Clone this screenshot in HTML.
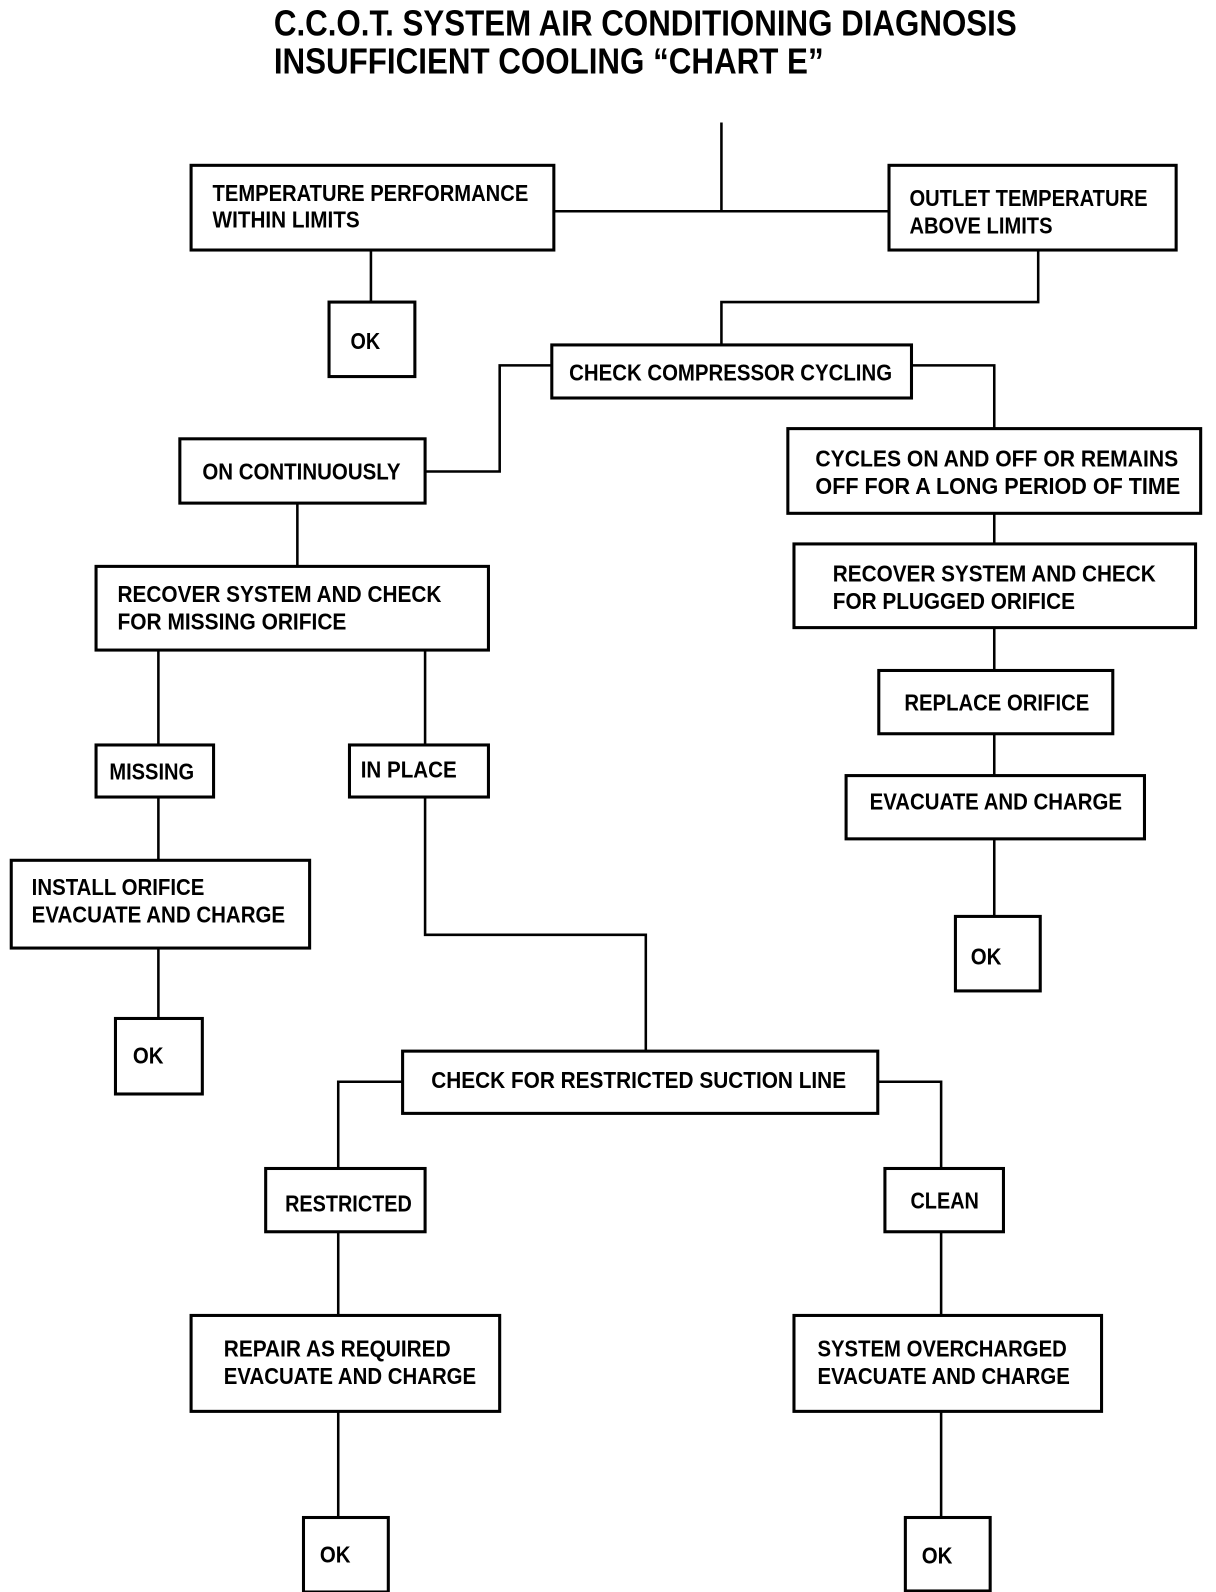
<!DOCTYPE html>
<html><head><meta charset="utf-8"><style>
html,body{margin:0;padding:0;background:#fff;width:1216px;height:1592px;overflow:hidden}
svg{display:block}
text{font-family:"Liberation Sans",sans-serif;font-size:23px;fill:#000;font-weight:bold}
.t{font-size:35px;font-weight:bold}
rect{fill:none;stroke:#000;stroke-width:3}
path{fill:none;stroke:#000;stroke-width:2.5}
</style></head><body>
<svg width="1216" height="1592" viewBox="0 0 1190 1560" preserveAspectRatio="none" xmlns="http://www.w3.org/2000/svg">
<text class="t" x="268" y="35" textLength="727" lengthAdjust="spacingAndGlyphs">C.C.O.T. SYSTEM AIR CONDITIONING DIAGNOSIS</text>
<text class="t" x="268" y="72" textLength="538" lengthAdjust="spacingAndGlyphs">INSUFFICIENT COOLING “CHART E”</text>

<path d="M706 120V207M542 207H870"/>
<path d="M363 245V296"/>
<path d="M1016 245V296H706V338"/>
<path d="M540 358H489V462H416"/>
<path d="M892 358H973V420"/>
<path d="M973 503V533M973 615V657M973 719V760M973 822V898"/>
<path d="M291 493V555"/>
<path d="M155 637V730M416 637V730"/>
<path d="M155 781V843M155 929V998"/>
<path d="M416 781V916H632V1030"/>
<path d="M394 1060H331V1145M859 1060H921V1145"/>
<path d="M331 1207V1289M331 1383V1487M921 1207V1289M921 1383V1487"/>

<rect x="187" y="162" width="355" height="83"/>
<rect x="870" y="162" width="281" height="83"/>
<rect x="322" y="296" width="84" height="73"/>
<rect x="540" y="338" width="352" height="52"/>
<rect x="176" y="430" width="240" height="63"/>
<rect x="771" y="420" width="404" height="83"/>
<rect x="777" y="533" width="393" height="82"/>
<rect x="860" y="657" width="229" height="62"/>
<rect x="828" y="760" width="292" height="62"/>
<rect x="935" y="898" width="83" height="73"/>
<rect x="94" y="555" width="384" height="82"/>
<rect x="94" y="730" width="115" height="51"/>
<rect x="342" y="730" width="136" height="51"/>
<rect x="11" y="843" width="292" height="86"/>
<rect x="113" y="998" width="85" height="74"/>
<rect x="394" y="1030" width="465" height="61"/>
<rect x="260" y="1145" width="156" height="62"/>
<rect x="866" y="1145" width="116" height="62"/>
<rect x="187" y="1289" width="302" height="94"/>
<rect x="777" y="1289" width="301" height="94"/>
<rect x="297" y="1487" width="83" height="73"/>
<rect x="886" y="1487" width="83" height="72"/>

<text x="208" y="197" textLength="309" lengthAdjust="spacingAndGlyphs">TEMPERATURE PERFORMANCE</text>
<text x="208" y="223" textLength="144" lengthAdjust="spacingAndGlyphs">WITHIN LIMITS</text>
<text x="890" y="202" textLength="233" lengthAdjust="spacingAndGlyphs">OUTLET TEMPERATURE</text>
<text x="890" y="229" textLength="140" lengthAdjust="spacingAndGlyphs">ABOVE LIMITS</text>
<text x="343" y="342" textLength="29" lengthAdjust="spacingAndGlyphs">OK</text>
<text x="557" y="373" textLength="316" lengthAdjust="spacingAndGlyphs">CHECK COMPRESSOR CYCLING</text>
<text x="198" y="470" textLength="194" lengthAdjust="spacingAndGlyphs">ON CONTINUOUSLY</text>
<text x="798" y="457" textLength="355" lengthAdjust="spacingAndGlyphs">CYCLES ON AND OFF OR REMAINS</text>
<text x="798" y="484" textLength="357" lengthAdjust="spacingAndGlyphs">OFF FOR A LONG PERIOD OF TIME</text>
<text x="815" y="570" textLength="316" lengthAdjust="spacingAndGlyphs">RECOVER SYSTEM AND CHECK</text>
<text x="815" y="597" textLength="237" lengthAdjust="spacingAndGlyphs">FOR PLUGGED ORIFICE</text>
<text x="885" y="696" textLength="181" lengthAdjust="spacingAndGlyphs">REPLACE ORIFICE</text>
<text x="851" y="793" textLength="247" lengthAdjust="spacingAndGlyphs">EVACUATE AND CHARGE</text>
<text x="950" y="945" textLength="30" lengthAdjust="spacingAndGlyphs">OK</text>
<text x="115" y="590" textLength="317" lengthAdjust="spacingAndGlyphs">RECOVER SYSTEM AND CHECK</text>
<text x="115" y="617" textLength="224" lengthAdjust="spacingAndGlyphs">FOR MISSING ORIFICE</text>
<text x="107" y="764" textLength="83" lengthAdjust="spacingAndGlyphs">MISSING</text>
<text x="353" y="762" textLength="94" lengthAdjust="spacingAndGlyphs">IN PLACE</text>
<text x="31" y="877" textLength="169" lengthAdjust="spacingAndGlyphs">INSTALL ORIFICE</text>
<text x="31" y="904" textLength="248" lengthAdjust="spacingAndGlyphs">EVACUATE AND CHARGE</text>
<text x="130" y="1042" textLength="30" lengthAdjust="spacingAndGlyphs">OK</text>
<text x="422" y="1066" textLength="406" lengthAdjust="spacingAndGlyphs">CHECK FOR RESTRICTED SUCTION LINE</text>
<text x="279" y="1187" textLength="124" lengthAdjust="spacingAndGlyphs">RESTRICTED</text>
<text x="891" y="1184" textLength="67" lengthAdjust="spacingAndGlyphs">CLEAN</text>
<text x="219" y="1329" textLength="222" lengthAdjust="spacingAndGlyphs">REPAIR AS REQUIRED</text>
<text x="219" y="1356" textLength="247" lengthAdjust="spacingAndGlyphs">EVACUATE AND CHARGE</text>
<text x="800" y="1329" textLength="244" lengthAdjust="spacingAndGlyphs">SYSTEM OVERCHARGED</text>
<text x="800" y="1356" textLength="247" lengthAdjust="spacingAndGlyphs">EVACUATE AND CHARGE</text>
<text x="313" y="1531" textLength="30" lengthAdjust="spacingAndGlyphs">OK</text>
<text x="902" y="1532" textLength="30" lengthAdjust="spacingAndGlyphs">OK</text>
</svg>
</body></html>
